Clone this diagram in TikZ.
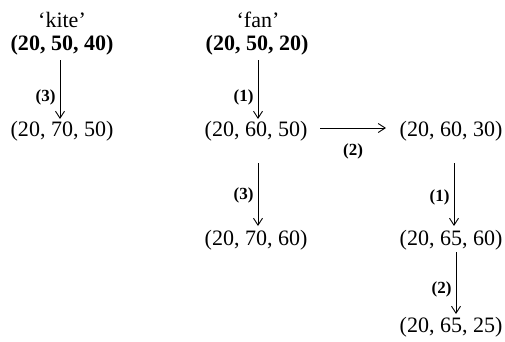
\documentclass[tikz,border=0pt]{standalone}
\usepackage{fontspec}
\setmainfont{Liberation Serif}
\usetikzlibrary{arrows.meta}
\begin{document}
\begin{tikzpicture}[x=1pt,y=-1pt,
  tuple/.style={inner sep=0pt,font=\fontsize{22}{24}\selectfont},
  btuple/.style={tuple,font=\fontsize{22}{24}\selectfont\bfseries},
  lbl/.style={inner sep=0pt,font=\fontsize{17}{19}\selectfont\bfseries},
  arr/.style={-{Straight Barb[length=7pt,width=9pt]},line width=0.9pt}]
\useasboundingbox (0,0) rectangle (505,341);
\node[tuple] (kname) at (62,20) {‘kite’};
\node[btuple] (k0) at (62,45) {(20, 50, 40)};
\node[tuple] (k1) at (62,131) {(20, 70, 50)};
\node[tuple] (fname) at (258,20) {‘fan’};
\node[btuple] (f0) at (257,45) {(20, 50, 20)};
\node[tuple] (f1) at (256,131) {(20, 60, 50)};
\node[tuple] (f2) at (451,131) {(20, 60, 30)};
\node[tuple] (f3) at (256,240) {(20, 70, 60)};
\node[tuple] (f4) at (451,240) {(20, 65, 60)};
\node[tuple] (f5) at (451,327) {(20, 65, 25)};
\coordinate (ka) at (60,60); \coordinate (kb) at (60,119);
\draw[arr] (ka) -- (kb) node[lbl,pos=0.63,left=4pt] {(3)};
\coordinate (fa) at (258,60); \coordinate (fb) at (258,119);
\draw[arr] (fa) -- (fb) node[lbl,pos=0.63,left=4pt] {(1)};
\coordinate (ha) at (320,128); \coordinate (hb) at (386,128);
\draw[arr] (ha) -- (hb) node[lbl,midway,below=15pt] {(2)};
\coordinate (ga) at (258,163); \coordinate (gb) at (258,226);
\draw[arr] (ga) -- (gb) node[lbl,pos=0.52,left=4pt] {(3)};
\coordinate (ia) at (454,163); \coordinate (ib) at (454,226);
\draw[arr] (ia) -- (ib) node[lbl,pos=0.55,left=4pt] {(1)};
\coordinate (ja) at (456,252); \coordinate (jb) at (456,314);
\draw[arr] (ja) -- (jb) node[lbl,pos=0.6,left=4pt] {(2)};
\end{tikzpicture}
\end{document}
